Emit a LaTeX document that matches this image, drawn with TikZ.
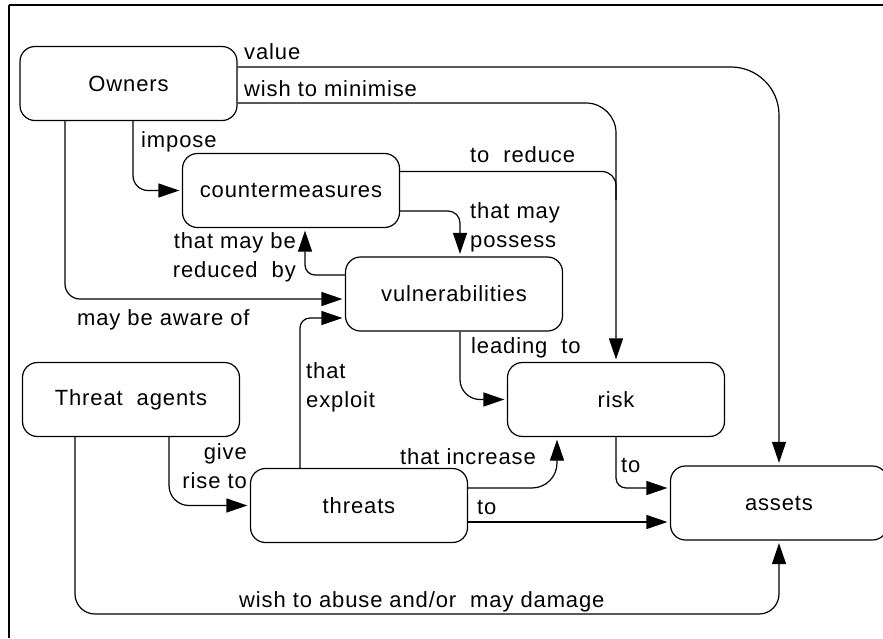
\documentclass[tikz,border=0pt]{standalone}
\usepackage{fontspec}
\setmainfont{Liberation Sans}[LetterSpace=4]
\usetikzlibrary{arrows.meta}
\begin{document}
\begin{tikzpicture}[x=1pt,y=-1pt,
  every node/.style={font=\fontsize{22}{29}\selectfont, inner sep=0pt},
  box/.style={draw, line width=1.2pt, rounded corners=15pt, minimum width=217pt, minimum height=74pt},
  lbl/.style={align=left},
  conn/.style={line width=1.2pt},
  arr/.style={conn, -{Triangle[length=21pt,width=14pt]}, shorten >=2.5pt},
  frame/.style={line width=2pt}]
\useasboundingbox (0,0) rectangle (883,638);
\draw[frame] (9,5) -- (883,5);
\draw[frame] (9,5) -- (9,638);
% boxes
\node[box] (own) at (128.5,83.5) {Owners};
\node[box] (cm) at (291,190.5) {countermeasures};
\node[box] (vul) at (454,294) {vulnerabilities};
\node[box] (ta) at (131,399.5) {Threat\ \ agents};
\node[box] (thr) at (359,505.5) {threats};
\node[box] (risk) at (616,399.5) {risk};
\node[box] (ass) at (779,503) {assets};
% connectors
\draw[arr, rounded corners=48pt] (own.east |- 0,67) -| (ass.north);
\draw[arr, rounded corners=30pt] (own.east |- 0,103) -| (risk.north);
\coordinate (rj) at (616,200);
\draw[conn, rounded corners=14pt] (cm.east |- 0,171.5) -| (rj);
\draw[arr, rounded corners=12pt] (cm.east |- 0,211) -| (460,0 |- vul.north);
\draw[arr, rounded corners=10pt] (vul.west |- 0,275) -| (305,0 |- cm.south);
\draw[arr, rounded corners=15pt] (65,0 |- own.south) |- (vul.west |- 0,299);
\draw[arr, rounded corners=15pt] (133,0 |- own.south) |- (cm.west);
\draw[arr, rounded corners=10pt] (300,0 |- thr.north) |- (vul.west |- 0,318);
\draw[arr, rounded corners=20pt] (169,0 |- ta.south) |- (thr.west);
\draw[arr, rounded corners=20pt] (75,0 |- ta.south) |- (ass.south |- 0,614) -- (ass.south);
\draw[arr, rounded corners=20pt] (460,0 |- vul.south) |- (risk.west);
\draw[arr, rounded corners=25pt] (thr.east |- 0,488) -| (557,0 |- risk.south);
\draw[arr] (thr.east |- 0,522) -- (ass.west |- 0,522);
\draw[arr, rounded corners=10pt] (risk.south) |- (ass.west |- 0,488);
% labels
\node[lbl, anchor=west] (l1) at (244,52) {value};
\node[lbl, anchor=west] (l2) at (244,89) {wish to minimise};
\node[lbl, anchor=west] (l3) at (141,142) {impose};
\node[lbl, anchor=west] (l4) at (470,155) {to\ \ reduce};
\node[lbl, anchor=west] (l5) at (470,227.5) {that may\\possess};
\node[align=right, anchor=east] (l6) at (296,257.5) {that may be\\reduced\ \ by};
\node[lbl, anchor=west] (l7) at (77,320) {may be aware of};
\node[lbl, anchor=west] (l8) at (306,387.5) {that\\exploit};
\node[align=right, anchor=east] (l9) at (247,466) {give\\rise to};
\node[lbl, anchor=west] (l10) at (471,348) {leading\ \ to};
\node[lbl, anchor=west] (l11) at (400,457) {that increase};
\node[lbl, anchor=west] (l12) at (477,507) {to};
\node[lbl, anchor=west] (l13) at (621,465) {to};
\node[lbl, anchor=west] (l14) at (239,602) {wish to abuse and/or\ \ may damage};
\end{tikzpicture}
\end{document}
